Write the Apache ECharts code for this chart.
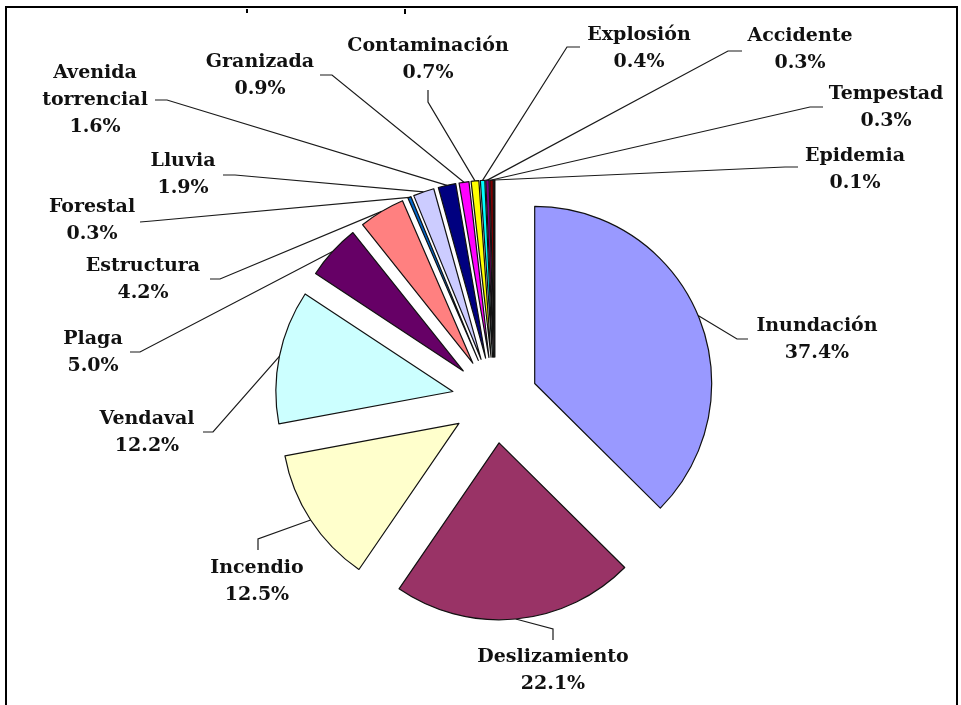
<!DOCTYPE html>
<html><head><meta charset="utf-8">
<script src="https://cdn.jsdelivr.net/npm/echarts@6/dist/echarts.min.js"></script>
<style>html,body{margin:0;padding:0;background:#fff}#c{width:961px;height:705px}</style>
</head><body><div id="c"></div>
<script>
// ---- data ----
const categories = ['Inundación','Deslizamiento','Incendio','Vendaval','Plaga','Estructura','Forestal','Lluvia','Avenida\ntorrencial','Granizada','Contaminación','Explosión','Accidente','Tempestad','Epidemia'];
const values = [37.4, 22.1, 12.5, 12.2, 5.0, 4.2, 0.3, 1.9, 1.6, 0.9, 0.7, 0.4, 0.3, 0.3, 0.1];
const colors = ['#9999FF','#993366','#FFFFCC','#CCFFFF','#660066','#FF8080','#0066CC','#CCCCFF','#000080','#FF00FF','#FFFF00','#00FFFF','#800080','#800000','#008080'];

// ---- layout (label centres and leader-line bends) ----
const labelPos = [[817,340],[553,671],[257,582],[147,433],[93,353],[143,280],[92,221],[183,175],[95,100],[260,76],[428,60],[639,49],[800,50],[886,108],[855,170]];
const lineBend = [[737,339],[553,629],[258,539],[213,432],[140,352],[220,279],[152,221],[235,175],[167,100],[332,75],[428,102],[567,47],[728,51],[810,107],[785,167]];
const lineEnd  = [[748,339],[553,640],[258,550],[203,432],[130,352],[210,279],[140,222],[223,175],[155,100],[320,75],[428,90],[580,47],[742,51],[823,107],[798,167]];

const CX = 495, CY = 400, R = 177, EXPLODE = 43;
const total = values.reduce((a,b)=>a+b,0);

const chart = echarts.init(document.getElementById('c'), null, {renderer:'canvas'});
const series = [];
let cum = 0;
values.forEach((v, i) => {
  const mid = (cum + v/2) / total * Math.PI * 2;
  cum += v;
  const c = [CX + EXPLODE*Math.sin(mid), CY - EXPLODE*Math.cos(mid)];
  const arcPt = [c[0] + R*Math.sin(mid), c[1] - R*Math.cos(mid)];
  series.push({
    type: 'pie',
    radius: R,
    center: c,
    startAngle: 90,
    clockwise: true,
    avoidLabelOverlap: false,
    silent: true,
    animation: false,
    emphasis: {disabled: true},
    data: categories.map((n, j) => ({
      name: n, value: values[j],
      itemStyle: j === i ? {color: colors[j], borderColor: '#111', borderWidth: 1.2} : {color: 'rgba(0,0,0,0)', borderWidth: 0},
      label: {show: j === i},
      labelLine: {show: j === i}
    })),
    label: {
      position: 'outside',
      formatter: p => p.name + '\n' + p.value.toFixed(1) + '%',
      fontFamily: 'DejaVu Serif', fontWeight: 'bold', fontSize: 19, lineHeight: 27,
      color: '#111', align: 'center'
    },
    labelLine: {lineStyle: {color: '#1a1a1a', width: 1.2}},
    labelLayout: function (p) {
      const start = (p.labelLinePoints && p.labelLinePoints[0]) ? p.labelLinePoints[0] : arcPt;
      return {
        x: labelPos[i][0], y: labelPos[i][1],
        align: 'center', verticalAlign: 'middle',
        labelLinePoints: [start, lineBend[i], lineEnd[i]]
      };
    }
  });
});

chart.setOption({
  backgroundColor: '#fff',
  series: series,
  graphic: [
    {type:'polyline', shape:{points:[[6,705],[6,7],[957,7],[957,705]]}, style:{stroke:'#000', lineWidth:2, fill:null}, silent:true},
    {type:'line', shape:{x1:247,y1:9,x2:247,y2:13}, style:{stroke:'#000', lineWidth:2}, silent:true},
    {type:'line', shape:{x1:405,y1:9,x2:405,y2:14}, style:{stroke:'#000', lineWidth:2}, silent:true}
  ]
});
</script>
</body></html>
